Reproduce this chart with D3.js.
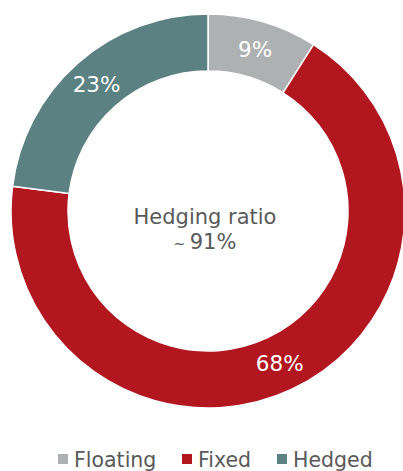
<!DOCTYPE html>
<html>
<head>
<meta charset="utf-8">
<script src="https://cdn.jsdelivr.net/npm/d3@7"></script>
<style>
html,body{margin:0;padding:0;background:#fff;}
svg{display:block;}
text{font-family:"DejaVu Sans",Verdana,sans-serif;}
</style>
</head>
<body>
<svg id="chart" width="403" height="471"></svg>
<script>
const categories = ["Floating", "Fixed", "Hedged"];
const values = [9, 68, 23];
const labels = ["9%", "68%", "23%"];
const colors = ["#AEB1B2", "#B2161F", "#5B8183"];
const centerLine1 = "Hedging ratio";
const centerLine2 = "91%";

const svg = d3.select("#chart");
const cx = 208, cy = 211, outerR = 197, innerR = 140;

const pie = d3.pie().sort(null).value(d => d.v);
const data = pie(categories.map((c, i) => ({c, v: values[i], l: labels[i], col: colors[i]})));
const arc = d3.arc().innerRadius(innerR).outerRadius(outerR);
const labelArc = d3.arc().innerRadius((innerR + outerR) / 2).outerRadius((innerR + outerR) / 2);

const g = svg.append("g").attr("transform", `translate(${cx},${cy})`);
g.selectAll("path").data(data).join("path")
  .attr("d", arc)
  .attr("fill", d => d.data.col)
  .attr("stroke", "#fff")
  .attr("stroke-width", 1.5);

g.selectAll("text.lbl").data(data).join("text")
  .attr("class", "lbl")
  .attr("transform", d => `translate(${labelArc.centroid(d)})`)
  .attr("text-anchor", "middle")
  .attr("dy", "0.36em")
  .attr("fill", "#fff")
  .attr("font-size", 21.5)
  .text(d => d.data.l);

const ct = svg.append("text").attr("x", 205).attr("text-anchor", "middle")
  .attr("fill", "#595959").attr("font-size", 21);
ct.append("tspan").attr("x", 205).attr("y", 224).text(centerLine1);
const l2 = ct.append("tspan").attr("x", 205).attr("y", 249);
l2.append("tspan").attr("font-size", 14).text("~ ");
l2.append("tspan").text(centerLine2);

// legend
const legendX = [58, 182, 277];
const lg = svg.append("g").selectAll("g").data(categories).join("g")
  .attr("transform", (d, i) => `translate(${legendX[i]},0)`);
lg.append("rect").attr("x", 0).attr("y", 454).attr("width", 10).attr("height", 10)
  .attr("fill", (d, i) => colors[i]);
lg.append("text").attr("x", 16).attr("y", 467).attr("fill", "#595959")
  .attr("font-size", 20.5).text(d => d);
</script>
</body>
</html>
